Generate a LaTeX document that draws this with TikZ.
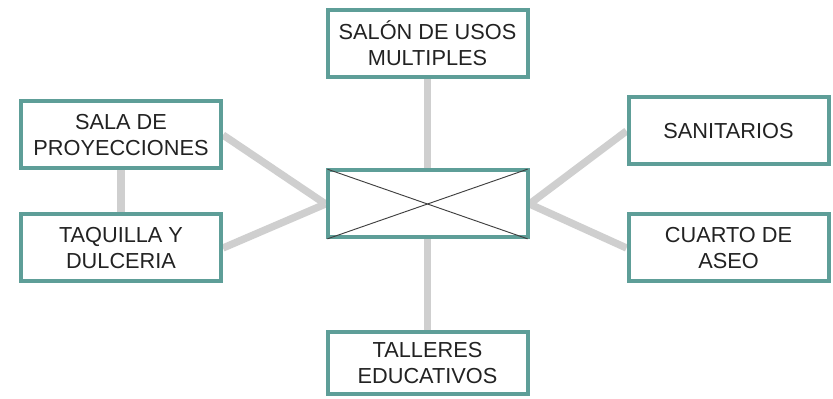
\documentclass[tikz,border=0pt]{standalone}
\usepackage{fontspec}
\setmainfont{Liberation Sans}
\usetikzlibrary{backgrounds}
\definecolor{boxteal}{HTML}{5E9E98}
\definecolor{linkgray}{HTML}{CFCFCF}
\definecolor{txt}{HTML}{222222}
\tikzset{
  roombox/.style={draw=boxteal, line width=3pt, fill=white, rectangle,
    minimum width=150pt, minimum height=50.25pt, inner sep=0pt,
    align=center, text=txt, font=\fontsize{16.3}{19.5}\selectfont},
  link/.style={draw=linkgray, line width=5.5pt},
  diag/.style={draw=black!75, line width=0.7pt, shorten >=1.5pt, shorten <=1.5pt}
}
\begin{document}
\begin{tikzpicture}[x=0.75pt, y=-0.75pt]
\useasboundingbox (0,0) rectangle (833,399);
\node[roombox] (top) at (427.5,43.5) {SALÓN DE USOS\\MULTIPLES};
\node[roombox] (mid) at (427.5,204) {};
\node[roombox, minimum height=46.5pt] (bot) at (427.5,363) {TALLERES\\EDUCATIVOS};
\node[roombox] (sala) at (121,135) {SALA DE\\PROYECCIONES};
\node[roombox] (taq) at (121,248) {TAQUILLA Y\\DULCERIA};
\node[roombox] (san) at (728.5,131) {SANITARIOS};
\node[roombox] (cua) at (728.5,248) {CUARTO DE\\ASEO};
\draw[diag] (mid.north west) -- (mid.south east);
\draw[diag] (mid.south west) -- (mid.north east);
\begin{scope}[on background layer]
  \fill[white] (0,0) rectangle (833,399);
  \draw[link] (top.south) -- (mid.north);
  \draw[link] (mid.south) -- (bot.north);
  \draw[link] (sala.south) -- (taq.north);
  \draw[link] (sala.east) -- (mid.west);
  \draw[link] (taq.east) -- (mid.west);
  \draw[link] (san.west) -- (mid.east);
  \draw[link] (cua.west) -- (mid.east);
\end{scope}
\end{tikzpicture}
\end{document}
